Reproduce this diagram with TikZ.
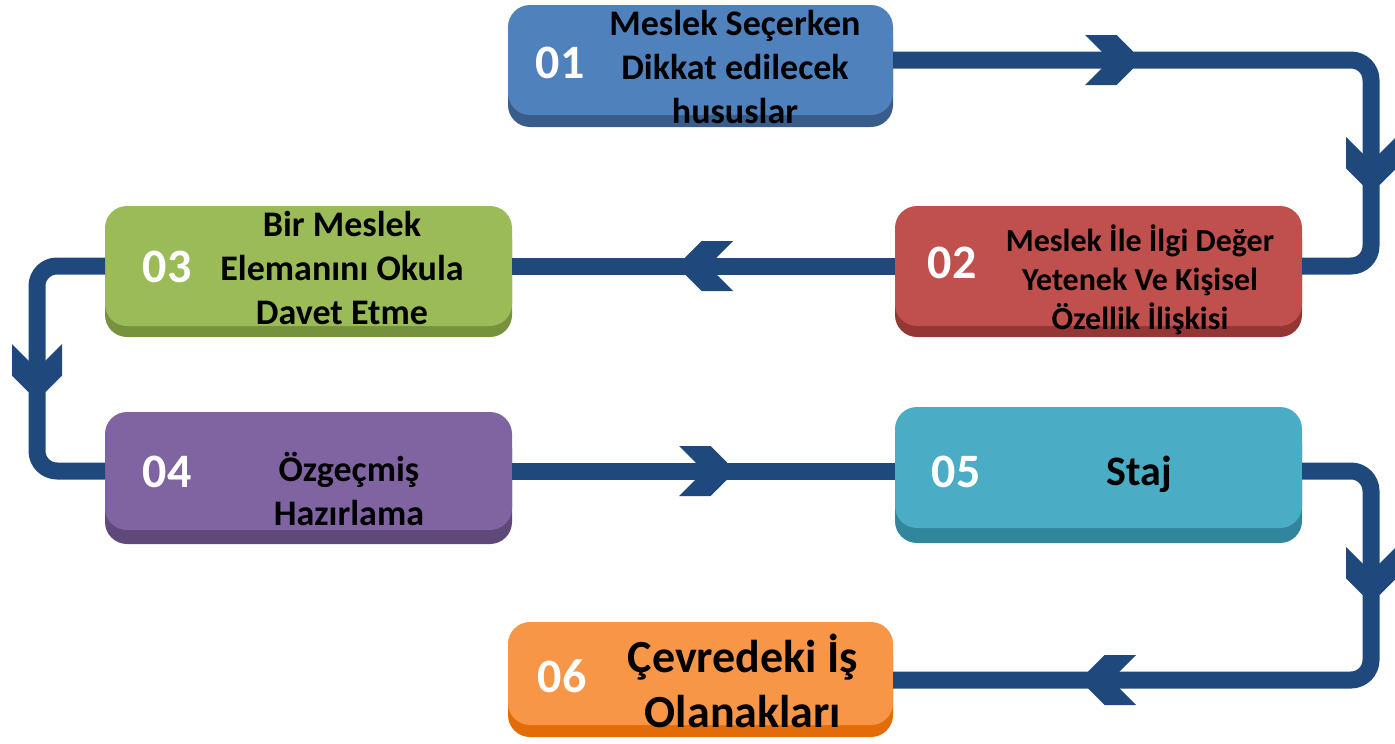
\documentclass[tikz,border=0pt]{standalone}
\usepackage{fontspec}
\setmainfont{Carlito}
\usetikzlibrary{shadows}
\definecolor{linkblue}{HTML}{1F497D}
\definecolor{tileA}{HTML}{4F81BD}\definecolor{tileAd}{HTML}{385D8A}
\definecolor{tileB}{HTML}{C0504D}\definecolor{tileBd}{HTML}{943634}
\definecolor{tileC}{HTML}{9BBB59}\definecolor{tileCd}{HTML}{76923C}
\definecolor{tileD}{HTML}{8064A2}\definecolor{tileDd}{HTML}{5F497A}
\definecolor{tileE}{HTML}{4BACC6}\definecolor{tileEd}{HTML}{31859C}
\definecolor{tileF}{HTML}{F79646}\definecolor{tileFd}{HTML}{E36C09}

\begin{document}
\begin{tikzpicture}[x=1pt, y=-1pt,
  tile/.style={rounded corners=22pt, inner sep=0pt, outer sep=0pt},
  band/.style 2 args={general shadow={shadow xshift=0pt, shadow yshift=-#2pt, fill=#1}},
  num/.style={text=white, font=\fontsize{48}{48}\selectfont\bfseries, inner sep=0pt},
  lbl/.style 2 args={align=center, inner sep=0pt, font=\fontsize{#1}{#2}\selectfont\bfseries},
  link/.style={draw=linkblue, line width=17pt, rounded corners=20pt},
  chev/.pic={\fill[linkblue] (0,8.5) -- (-16.5,25) -- (-48,25) -- (-31.5,8.5) -- (-31.5,-8.5) -- (-48,-25) -- (-16.5,-25) -- (0,-8.5) -- cycle;}]
\useasboundingbox (0,0) rectangle (1395,744);

\node[tile, band={tileAd}{12}, fill=tileA, minimum width=385pt, minimum height=110pt] (b1) at (700.5,60) {};
\node[tile, band={tileBd}{11}, fill=tileB, minimum width=407pt, minimum height=120pt] (b2) at (1098.5,266) {};
\node[tile, band={tileCd}{11}, fill=tileC, minimum width=407pt, minimum height=120pt] (b3) at (308.5,266) {};
\node[tile, band={tileDd}{14}, fill=tileD, minimum width=407pt, minimum height=118pt] (b4) at (308.5,471) {};
\node[tile, band={tileEd}{15}, fill=tileE, minimum width=407pt, minimum height=121pt] (b5) at (1098.5,467.5) {};
\node[tile, band={tileFd}{12}, fill=tileF, minimum width=385pt, minimum height=103pt] (b6) at (700.5,673.5) {};

\node[num] (n1) at (560,62.5) {01};
\node[num] (n2) at (952,263) {02};
\node[num] (n3) at (167,267) {03};
\node[num] (n4) at (167,472) {04};
\node[num] (n5) at (956,472) {05};
\node[num] (n6) at (562,676) {06};

\node[lbl={36}{44}] (t1) at (735,67.5) {Meslek Seçerken\\Dikkat edilecek\\hususlar};
\node[lbl={32}{39}] (t2) at (1140,280) {Meslek İle İlgi Değer\\Yetenek Ve Kişisel\\Özellik İlişkisi};
\node[lbl={36}{44}] (t3) at (342,268) {Bir Meslek\\Elemanını Okula\\Davet Etme};
\node[lbl={36}{44}] (t4) at (349,488.5) {Özgeçmiş\\Hazırlama};
\node[lbl={42}{50}, anchor=base] (t5) at (1139,485) {Staj};
\node[lbl={46}{55}] (t6) at (743,681) {Çevredeki İş\\Olanakları};

\coordinate (r1) at (1371,160);
\coordinate (l1) at (37,370);
\coordinate (r2) at (1371,580);
\draw[link] (b1.east) -| (r1) |- (b2.east);
\draw[link] (b2.west) -- (b3.east);
\draw[link] (b3.west) -| (l1) |- (b4.west);
\draw[link] (b4.east) -- (b4.east -| b5.west);
\draw[link] (b4.east -| b5.east) -| (r2) |- (b6.east |- 0,680);

\pic at (1133,60) {chev};
\pic[rotate=-90] at (1371,185) {chev};
\pic[rotate=180] at (685,266) {chev};
\pic[rotate=-90] at (37,392) {chev};
\pic at (727,471) {chev};
\pic[rotate=-90] at (1371,595) {chev};
\pic[rotate=180] at (1088,680) {chev};
\end{tikzpicture}
\end{document}
